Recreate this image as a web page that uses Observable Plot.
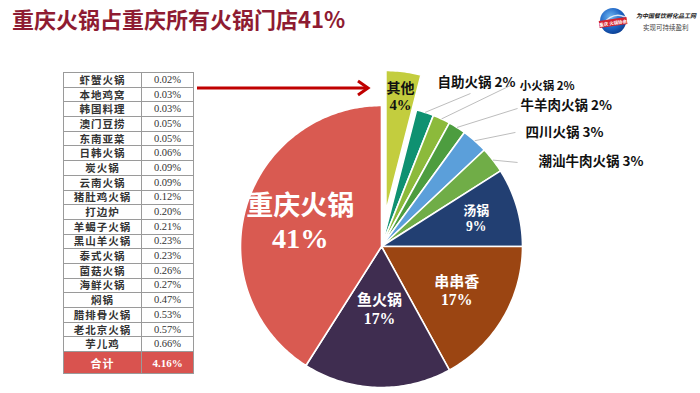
<!DOCTYPE html>
<html>
<head>
<meta charset="utf-8">
<script src="https://cdn.jsdelivr.net/npm/d3@7"></script>
<script src="https://cdn.jsdelivr.net/npm/@observablehq/plot@0.6"></script>
<style>
  html, body { margin: 0; padding: 0; background: #fff; }
  #page { position: relative; width: 700px; height: 393px; overflow: hidden; font-family: "Noto Sans CJK SC", sans-serif; }
  #title { position: absolute; left: 12px; top: 6px; font-size: 22px; line-height: 24px; font-weight: bold; color: #8E1B32; white-space: nowrap; }
  #logo { position: absolute; left: 596px; top: 5px; }
  #tbl { position: absolute; left: 63px; top: 72px; border-collapse: collapse; font-family: "Noto Sans CJK SC", serif; }
  #tbl td { border: 1px solid #9a9a9a; height: 13.7px; padding: 0; font-size: 10.5px; line-height: 10px; color: #333; text-align: center; }
  #tbl td.n { width: 77px; letter-spacing: 1px; font-weight: bold; }
  #tbl td.v { width: 51px; font-family: "Liberation Serif", serif; font-size: 10.5px; }
  #tbl tr.total td { background: #D9534F; color: #fff; font-weight: bold; height: 21px; font-size: 11px; }
  #arrow { position: absolute; left: 190px; top: 78px; }
  #pie { position: absolute; left: 190px; top: 40px; }
</style>
</head>
<body>
<div id="page">
  <div id="title">重庆火锅占重庆所有火锅门店41%</div>
  <svg id="logo" width="104" height="32" viewBox="0 0 104 32">
    <defs>
      <radialGradient id="g" cx="40%" cy="35%" r="70%">
        <stop offset="0" stop-color="#6fb6f0"/>
        <stop offset="0.6" stop-color="#1d63c4"/>
        <stop offset="1" stop-color="#0b3d8f"/>
      </radialGradient>
    </defs>
    <circle cx="17" cy="16" r="13" fill="url(#g)"/>
    <path d="M6 20 Q17 6 29 12" stroke="#fff" stroke-width="1.5" fill="none" opacity="0.8"/>
    <rect x="3" y="14" width="28" height="7" fill="#d4232f" transform="rotate(-8 17 17)"/>
    <text x="17" y="19.8" font-size="4.5" fill="#fff" text-anchor="middle" transform="rotate(-8 17 17)" font-weight="bold">重庆 火锅协会</text>
    <text x="40" y="13" font-size="6" fill="#222" font-style="italic" font-weight="bold">为中国餐饮孵化品工网</text>
    <text x="47" y="25" font-size="6.5" fill="#444">实现可持续盈利</text>
  </svg>
  <table id="tbl"></table>
  <svg id="arrow" width="190" height="20">
    <line x1="7" y1="10" x2="178" y2="10" stroke="#C00000" stroke-width="3"/>
    <polyline points="168,3 178,10 168,17" fill="none" stroke="#C00000" stroke-width="3"/>
  </svg>
  <div id="pie"></div>
</div>
<script>
// ---- data ----
const sliceNames  = ["其他", "自助火锅", "小火锅", "牛羊肉火锅", "四川火锅", "潮汕牛肉火锅", "汤锅", "串串香", "鱼火锅", "重庆火锅"];
const sliceValues = [4, 2, 2, 2, 3, 3, 9, 17, 17, 41];
const sliceColors = ["#C3CD3E", "#0F9171", "#8CBA3B", "#4D9D3F", "#5B9FDA", "#70AD47", "#223F72", "#9B4512", "#3F2D50", "#D95A51"];

const tableNames  = ["虾蟹火锅", "本地鸡窝", "韩国料理", "澳门豆捞", "东南亚菜", "日韩火锅", "炭火锅", "云南火锅", "猪肚鸡火锅", "打边炉", "羊蝎子火锅", "黑山羊火锅", "泰式火锅", "菌菇火锅", "海鲜火锅", "焖锅", "腊排骨火锅", "老北京火锅", "芋儿鸡"];
const tableValues = ["0.02%", "0.03%", "0.03%", "0.05%", "0.05%", "0.06%", "0.09%", "0.09%", "0.12%", "0.20%", "0.21%", "0.23%", "0.23%", "0.26%", "0.27%", "0.47%", "0.53%", "0.57%", "0.66%"];
const tableTotalLabel = "合计";
const tableTotalValue = "4.16%";

// ---- table ----
const tbl = document.getElementById("tbl");
tbl.innerHTML = tableNames.map((n, i) => `<tr><td class="n">${n}</td><td class="v">${tableValues[i]}</td></tr>`).join("")
  + `<tr class="total"><td class="n">${tableTotalLabel}</td><td class="v">${tableTotalValue}</td></tr>`;

// ---- pie geometry (layout) ----
const explodeName = "其他";
const explode = 0.25;
const total = d3.sum(sliceValues);
let cum = 0;
const slices = sliceNames.map((name, i) => {
  const a0 = cum / total * 2 * Math.PI;
  cum += sliceValues[i];
  const a1 = cum / total * 2 * Math.PI;
  const mid = (a0 + a1) / 2;
  const off = name === explodeName ? explode : 0;
  return {name, value: sliceValues[i], a0, a1, mid, ox: off * Math.sin(mid), oy: off * Math.cos(mid)};
});
const polyPoints = [];
for (const s of slices) {
  const n = Math.max(4, Math.ceil((s.a1 - s.a0) / (Math.PI / 180)));
  polyPoints.push({name: s.name, x: s.ox, y: s.oy});
  for (let k = 0; k <= n; k++) {
    const a = s.a0 + (s.a1 - s.a0) * k / n;
    polyPoints.push({name: s.name, x: s.ox + Math.sin(a), y: s.oy + Math.cos(a)});
  }
  polyPoints.push({name: s.name, x: s.ox, y: s.oy});
}

// inner labels: radius along mid-angle, font size, colour, line gap (px)
const innerLayout = {
  "其他":   {r: 0.82, size: 14, fill: "#111", gap: 17.5},
  "汤锅":   {r: 0.70, size: 13, fill: "#fff", gap: 16},
  "串串香": {r: 0.62, size: 15, fill: "#fff", gap: 18.5},
  "鱼火锅": {r: 0.45, size: 15, fill: "#fff", gap: 18.5},
  "重庆火锅": {r: 0.60, size: 27, fill: "#fff", gap: 32.5}
};
const innerLabels = slices.filter(s => innerLayout[s.name]).map(s => {
  const L = innerLayout[s.name];
  return {name: s.name, pct: `${s.value}%`, x: s.ox + L.r * Math.sin(s.mid), y: s.oy + L.r * Math.cos(s.mid), ...L};
});

// outer labels (text anchor + leader line end, in pie-radius units)
const outerLayout = {
  "自助火锅":     {tx: 0.397, ty: 1.163, ex: 0.631, ey: 1.085, size: 13.5},
  "小火锅":       {tx: 0.980, ty: 1.135, ex: 0.915, ey: 1.142, size: 11.5},
  "牛羊肉火锅":   {tx: 0.986, ty: 1.000, ex: 0.965, ey: 0.979, size: 13.5},
  "四川火锅":     {tx: 1.021, ty: 0.809, ex: 0.950, ey: 0.809, size: 13.5},
  "潮汕牛肉火锅": {tx: 1.113, ty: 0.603, ex: 0.965, ey: 0.596, size: 13.5}
};
const outerLabels = slices.filter(s => outerLayout[s.name]).map(s => {
  const L = outerLayout[s.name];
  return {text: `${s.name} ${s.value}%`, x1: Math.sin(s.mid), y1: Math.cos(s.mid), ...L};
});

const R = 141;
const W = 510, H = 353;
const mL = 50, mT = 65;
const cjk = "'Noto Sans CJK SC', sans-serif";
const num = "'Liberation Serif', 'Noto Sans CJK SC', serif";
const chart = Plot.plot({
  width: W, height: H,
  marginLeft: mL, marginRight: W - mL - 2 * R,
  marginTop: mT, marginBottom: H - mT - 2 * R,
  x: {domain: [-1, 1], axis: null},
  y: {domain: [-1, 1], axis: null},
  color: {domain: sliceNames, range: sliceColors},
  style: {fontFamily: cjk, background: "transparent", overflow: "visible"},
  marks: [
    Plot.line(polyPoints, {x: "x", y: "y", z: "name", fill: "name", stroke: "white", strokeWidth: 1.6, strokeLinejoin: "round", curve: "linear"}),
    Plot.link(outerLabels, {x1: "x1", y1: "y1", x2: "ex", y2: "ey", stroke: "#BDBDBD", strokeWidth: 1}),
    ...innerLabels.flatMap(l => [
      Plot.text([l], {x: "x", y: "y", text: "name", fill: l.fill, fontSize: l.size, fontWeight: "bold", fontFamily: cjk, dy: -l.gap / 2}),
      Plot.text([l], {x: "x", y: "y", text: "pct", fill: l.fill, fontSize: l.size * 1.05, fontWeight: "bold", fontFamily: num, dy: l.gap / 2})
    ]),
    ...outerLabels.map(l => Plot.text([l], {x: "tx", y: "ty", text: "text", fill: "#111", fontSize: l.size, fontWeight: "bold", textAnchor: "start"}))
  ]
});
document.getElementById("pie").appendChild(chart);
</script>
</body>
</html>
